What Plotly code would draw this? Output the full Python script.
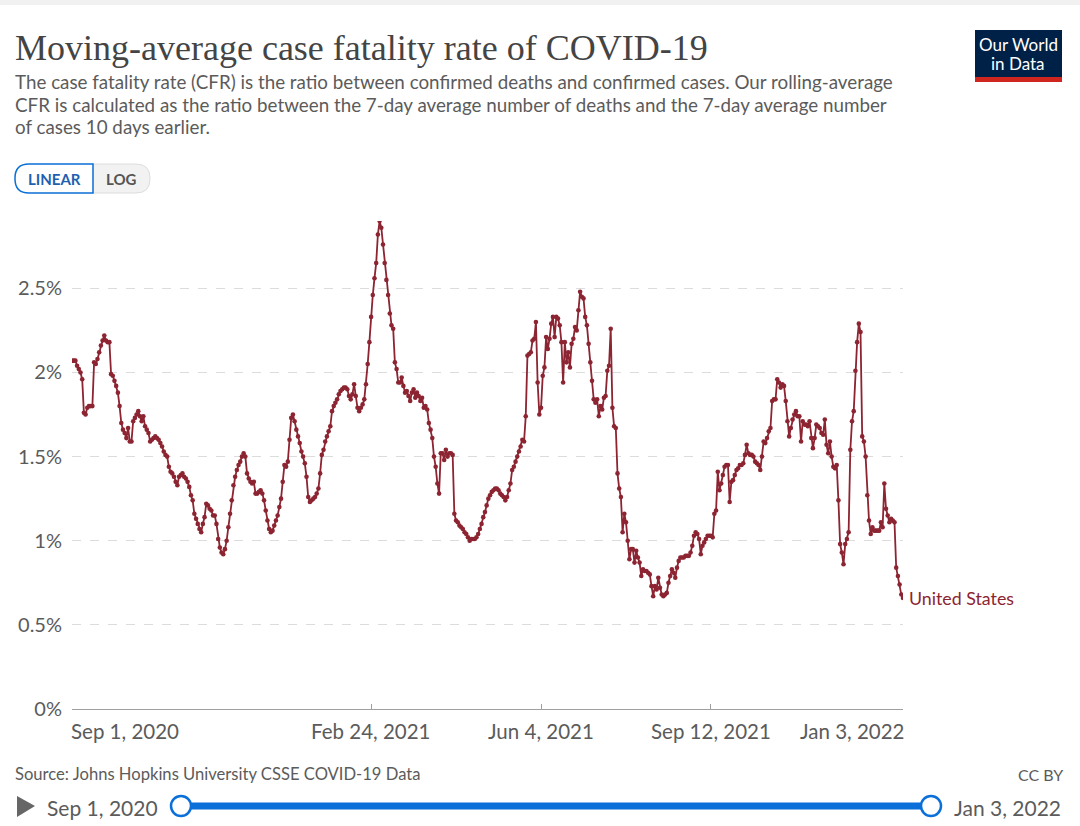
import pandas as pd
import plotly.graph_objects as go

# ---- data (percent), daily from Sep 1, 2020 to Jan 3, 2022 ----
start_date = "2020-09-01"
cfr_us = [
    2.07, 2.07, 2.07, 2.04, 2.02, 2.00, 1.96, 1.76, 1.75, 1.79,
    1.80, 1.80, 1.80, 2.06, 2.05, 2.08, 2.12, 2.16, 2.19, 2.22,
    2.19, 2.18, 2.18, 1.99, 1.98, 1.95, 1.92, 1.88, 1.80, 1.70,
    1.66, 1.64, 1.61, 1.67, 1.59, 1.59, 1.71, 1.73, 1.75, 1.77,
    1.74, 1.71, 1.74, 1.68, 1.66, 1.64, 1.59, 1.60, 1.61, 1.62,
    1.61, 1.60, 1.58, 1.56, 1.53, 1.51, 1.50, 1.44, 1.41, 1.40,
    1.38, 1.35, 1.33, 1.38, 1.39, 1.40, 1.38, 1.37, 1.35, 1.32,
    1.27, 1.24, 1.16, 1.13, 1.10, 1.07, 1.05, 1.10, 1.14, 1.22,
    1.21, 1.19, 1.18, 1.15, 1.15, 1.10, 1.01, 0.96, 0.93, 0.92,
    0.95, 1.00, 1.08, 1.16, 1.24, 1.33, 1.38, 1.42, 1.45, 1.47,
    1.50, 1.52, 1.50, 1.40, 1.37, 1.35, 1.34, 1.35, 1.28, 1.28,
    1.29, 1.30, 1.28, 1.24, 1.18, 1.12, 1.07, 1.05, 1.06, 1.09,
    1.12, 1.15, 1.20, 1.25, 1.35, 1.45, 1.44, 1.47, 1.60, 1.73,
    1.75, 1.71, 1.66, 1.62, 1.58, 1.53, 1.50, 1.46, 1.38, 1.26,
    1.23, 1.24, 1.25, 1.26, 1.28, 1.31, 1.40, 1.51, 1.54, 1.59,
    1.62, 1.65, 1.68, 1.77, 1.80, 1.82, 1.84, 1.87, 1.89, 1.90,
    1.91, 1.91, 1.90, 1.86, 1.84, 1.87, 1.93, 1.86, 1.79, 1.77,
    1.79, 1.81, 1.84, 1.93, 2.05, 2.18, 2.33, 2.46, 2.56, 2.65,
    2.82, 2.90, 2.86, 2.76, 2.65, 2.55, 2.46, 2.35, 2.28, 2.26,
    2.06, 2.02, 1.94, 1.94, 1.97, 1.92, 1.88, 1.89, 1.86, 1.83,
    1.88, 1.90, 1.85, 1.88, 1.86, 1.83, 1.85, 1.79, 1.80, 1.78,
    1.70, 1.66, 1.61, 1.50, 1.44, 1.34, 1.28, 1.52, 1.52, 1.48,
    1.54, 1.50, 1.52, 1.52, 1.51, 1.16, 1.12, 1.11, 1.09, 1.08,
    1.07, 1.05, 1.04, 1.02, 1.00, 1.01, 1.01, 1.01, 1.02, 1.04,
    1.07, 1.10, 1.14, 1.17, 1.21, 1.25, 1.27, 1.29, 1.30, 1.31,
    1.31, 1.30, 1.28, 1.27, 1.26, 1.24, 1.26, 1.30, 1.34, 1.42,
    1.44, 1.47, 1.50, 1.53, 1.56, 1.60, 1.59, 1.74, 2.10, 2.11,
    2.12, 2.19, 2.20, 2.30, 1.94, 1.75, 1.79, 1.98, 2.03, 2.21,
    2.14, 2.20, 2.29, 2.33, 2.21, 2.33, 2.32, 2.28, 2.18, 1.94,
    2.18, 2.06, 2.12, 2.03, 2.17, 2.20, 2.27, 2.25, 2.37, 2.48,
    2.45, 2.44, 2.33, 2.28, 2.17, 2.06, 1.95, 1.84, 1.82, 1.84,
    1.74, 1.80, 1.78, 1.85, 1.86, 2.01, 2.04, 2.26, 1.79, 1.68,
    1.67, 1.40, 1.31, 1.26, 1.05, 1.16, 1.11, 1.00, 0.89, 0.95,
    0.95, 0.87, 0.94, 0.90, 0.87, 0.79, 0.83, 0.82, 0.82, 0.81,
    0.80, 0.73, 0.67, 0.73, 0.71, 0.78, 0.72, 0.68, 0.67, 0.68,
    0.69, 0.75, 0.79, 0.83, 0.81, 0.78, 0.84, 0.88, 0.90, 0.90,
    0.90, 0.91, 0.91, 0.91, 0.93, 0.97, 1.03, 1.05, 1.04, 1.01,
    0.92, 0.97, 0.99, 1.01, 1.03, 1.03, 1.03, 1.02, 1.16, 1.18,
    1.41, 1.30, 1.34, 1.39, 1.44, 1.45, 1.45, 1.23, 1.35, 1.36,
    1.39, 1.42, 1.43, 1.45, 1.45, 1.46, 1.51, 1.57, 1.52, 1.51,
    1.51, 1.50, 1.47, 1.46, 1.45, 1.42, 1.50, 1.59, 1.58, 1.61,
    1.65, 1.67, 1.83, 1.84, 1.84, 1.96, 1.94, 1.91, 1.93, 1.92,
    1.83, 1.71, 1.62, 1.67, 1.72, 1.75, 1.77, 1.74, 1.74, 1.59,
    1.71, 1.69, 1.69, 1.68, 1.71, 1.61, 1.55, 1.61, 1.69, 1.68,
    1.67, 1.64, 1.63, 1.72, 1.57, 1.52, 1.59, 1.50, 1.44, 1.43,
    1.45, 1.24, 0.98, 0.93, 0.86, 0.98, 1.01, 1.05, 1.54, 1.71,
    1.77, 2.01, 2.18, 2.29, 2.24, 1.62, 1.59, 1.50, 1.27, 1.12,
    1.04, 1.08, 1.06, 1.06, 1.06, 1.06, 1.11, 1.08, 1.34, 1.19,
    1.15, 1.11, 1.13, 1.12, 1.11, 0.84, 0.79, 0.74, 0.68, 0.66,
]
dates = pd.date_range(start_date, periods=len(cfr_us), freq="D")

y_tick_vals = [0, 0.5, 1, 1.5, 2, 2.5]
y_tick_text = ["0%", "0.5%", "1%", "1.5%", "2%", "2.5%"]
x_tick_dates = ["2020-09-01", "2021-02-24", "2021-06-04", "2021-09-12", "2022-01-03"]
x_tick_text = ["Sep 1, 2020", "Feb 24, 2021", "Jun 4, 2021", "Sep 12, 2021", "Jan 3, 2022"]
series_name = "United States"

LINE_COLOR = "#8c2432"
GRAY = "#5b5b5b"
BLUE = "#0a6fd8"

W, H = 1080, 826
L, R, T, B = 72, 177, 221, 117
PW, PH = W - L - R, H - T - B


def px(x):
    return (x - L) / PW


def py(y):
    return (H - B - y) / PH


fig = go.Figure()
fig.add_trace(go.Scatter(
    x=dates, y=cfr_us, mode="lines+markers", name=series_name,
    line=dict(color=LINE_COLOR, width=1.8),
    marker=dict(color=LINE_COLOR, size=4.6),
    showlegend=False,
))

annotations = []
shapes = []

# top light band
shapes.append(dict(type="rect", xref="paper", yref="paper", x0=px(0), x1=px(W), y0=py(0), y1=py(5),
                   fillcolor="#f1f1f1", line=dict(width=0), layer="below"))

# Title and subtitle
annotations.append(dict(text="Moving-average case fatality rate of COVID-19", xref="paper", yref="paper",
                        x=px(13), y=py(48), xanchor="left", yanchor="middle", showarrow=False,
                        font=dict(family="Liberation Serif", size=36, color="#444444")))
subtitle_lines = [
    "The case fatality rate (CFR) is the ratio between confirmed deaths and confirmed cases. Our rolling-average",
    "CFR is calculated as the ratio between the 7-day average number of deaths and the 7-day average number",
    "of cases 10 days earlier.",
]
for i, line in enumerate(subtitle_lines):
    annotations.append(dict(text=line, xref="paper", yref="paper", x=px(13), y=py(81 + 23 * i),
                            xanchor="left", yanchor="middle", showarrow=False,
                            font=dict(family="Lato", size=18.8, color=GRAY)))

# OWID logo
shapes.append(dict(type="rect", xref="paper", yref="paper", x0=px(975), x1=px(1062), y0=py(30), y1=py(82),
                   fillcolor="#002147", line=dict(width=0)))
shapes.append(dict(type="rect", xref="paper", yref="paper", x0=px(975), x1=px(1062), y0=py(77), y1=py(82),
                   fillcolor="#ce261e", line=dict(width=0)))
annotations.append(dict(text="Our World", xref="paper", yref="paper", x=px(1018), y=py(44),
                        xanchor="center", yanchor="middle", showarrow=False,
                        font=dict(family="Lato", size=17, color="white")))
annotations.append(dict(text="in Data", xref="paper", yref="paper", x=px(1018), y=py(63),
                        xanchor="center", yanchor="middle", showarrow=False,
                        font=dict(family="Lato", size=17, color="white")))


def rounded_path(x0, y0, x1, y1, rl, rr):
    pts = []
    pts.append(f"M {px(x0 + rl)},{py(y0)}")
    pts.append(f"L {px(x1 - rr)},{py(y0)}")
    if rr:
        pts.append(f"Q {px(x1)},{py(y0)} {px(x1)},{py(y0 + rr)}")
        pts.append(f"L {px(x1)},{py(y1 - rr)}")
        pts.append(f"Q {px(x1)},{py(y1)} {px(x1 - rr)},{py(y1)}")
    else:
        pts.append(f"L {px(x1)},{py(y1)}")
    pts.append(f"L {px(x0 + rl)},{py(y1)}")
    if rl:
        pts.append(f"Q {px(x0)},{py(y1)} {px(x0)},{py(y1 - rl)}")
        pts.append(f"L {px(x0)},{py(y0 + rl)}")
        pts.append(f"Q {px(x0)},{py(y0)} {px(x0 + rl)},{py(y0)}")
    else:
        pts.append(f"L {px(x0)},{py(y0)}")
    pts.append("Z")
    return " ".join(pts)


# LINEAR / LOG toggle
shapes.append(dict(type="path", xref="paper", yref="paper", path=rounded_path(92, 164, 150, 193, 0, 14),
                   fillcolor="#f2f2f2", line=dict(color="#dddddd", width=1)))
shapes.append(dict(type="path", xref="paper", yref="paper", path=rounded_path(15, 164, 93, 193, 14, 0),
                   fillcolor="white", line=dict(color=BLUE, width=1.5)))
annotations.append(dict(text="<b>LINEAR</b>", xref="paper", yref="paper", x=px(54), y=py(179),
                        xanchor="center", yanchor="middle", showarrow=False,
                        font=dict(family="Lato", size=15, color="#1e5fb0")))
annotations.append(dict(text="<b>LOG</b>", xref="paper", yref="paper", x=px(121), y=py(179),
                        xanchor="center", yanchor="middle", showarrow=False,
                        font=dict(family="Lato", size=15, color="#555555")))

# x tick labels (first left aligned, last right aligned like the original)
anchors = ["left", "center", "center", "center", "right"]
shifts = [-3, 0, 0, 0, 3]
for d, t, a, s in zip(x_tick_dates, x_tick_text, anchors, shifts):
    annotations.append(dict(text=t, xref="x", yref="paper", x=d, y=py(731), xanchor=a, yanchor="middle",
                            xshift=s, showarrow=False, font=dict(family="Lato", size=20.5, color=GRAY)))

# series label at end
annotations.append(dict(text=series_name, xref="x", yref="y", x=dates[-1], y=cfr_us[-1],
                        xanchor="left", yanchor="middle", xshift=4, showarrow=False,
                        font=dict(family="Lato", size=17.8, color=LINE_COLOR)))

# Source / licence
annotations.append(dict(text="Source: Johns Hopkins University CSSE COVID-19 Data", xref="paper", yref="paper",
                        x=px(13), y=py(774), xanchor="left", yanchor="middle", showarrow=False,
                        font=dict(family="Lato", size=16.6, color=GRAY)))
annotations.append(dict(text="CC BY", xref="paper", yref="paper", x=px(1065), y=py(774), xanchor="right",
                        yanchor="middle", showarrow=False, font=dict(family="Lato", size=16, color=GRAY)))

# Timeline
shapes.append(dict(type="path", xref="paper", yref="paper",
                   path=f"M {px(17)},{py(796)} L {px(35)},{py(806)} L {px(17)},{py(817)} Z",
                   fillcolor="#666666", line=dict(width=0)))
annotations.append(dict(text="Sep 1, 2020", xref="paper", yref="paper", x=px(45), y=py(807), xanchor="left",
                        yanchor="middle", showarrow=False, font=dict(family="Lato", size=21, color=GRAY)))
annotations.append(dict(text="Jan 3, 2022", xref="paper", yref="paper", x=px(952), y=py(807), xanchor="left",
                        yanchor="middle", showarrow=False, font=dict(family="Lato", size=21, color=GRAY)))
shapes.append(dict(type="line", xref="paper", yref="paper", x0=px(181), x1=px(931), y0=py(806), y1=py(806),
                   line=dict(color=BLUE, width=7)))
for cx in (181, 931):
    shapes.append(dict(type="circle", xref="paper", yref="paper", x0=px(cx - 10), x1=px(cx + 10),
                       y0=py(816), y1=py(796), fillcolor="white", line=dict(color=BLUE, width=2.5)))

fig.update_layout(
    width=W, height=H, autosize=False,
    margin=dict(l=L, r=R, t=T, b=B, pad=0),
    paper_bgcolor="white", plot_bgcolor="white",
    font=dict(family="Lato", color=GRAY),
    annotations=annotations, shapes=shapes,
    xaxis=dict(
        type="date", range=[dates[0], dates[-1]],
        tickvals=x_tick_dates, ticktext=["" for _ in x_tick_text],
        showgrid=False, zeroline=False, showline=True, linecolor="#a0a0a0", linewidth=1,
        ticks="inside", ticklen=5, tickcolor="#a0a0a0", fixedrange=True,
    ),
    yaxis=dict(
        range=[0, max(cfr_us)], tickvals=y_tick_vals, ticktext=y_tick_text,
        showgrid=True, gridcolor="#dcdcdc", griddash="dash", gridwidth=1,
        zeroline=False, showline=False, ticks="", ticklabelstandoff=9,
        tickfont=dict(family="Lato", size=20, color=GRAY), fixedrange=True,
    ),
)

fig.write_html("out.html")
